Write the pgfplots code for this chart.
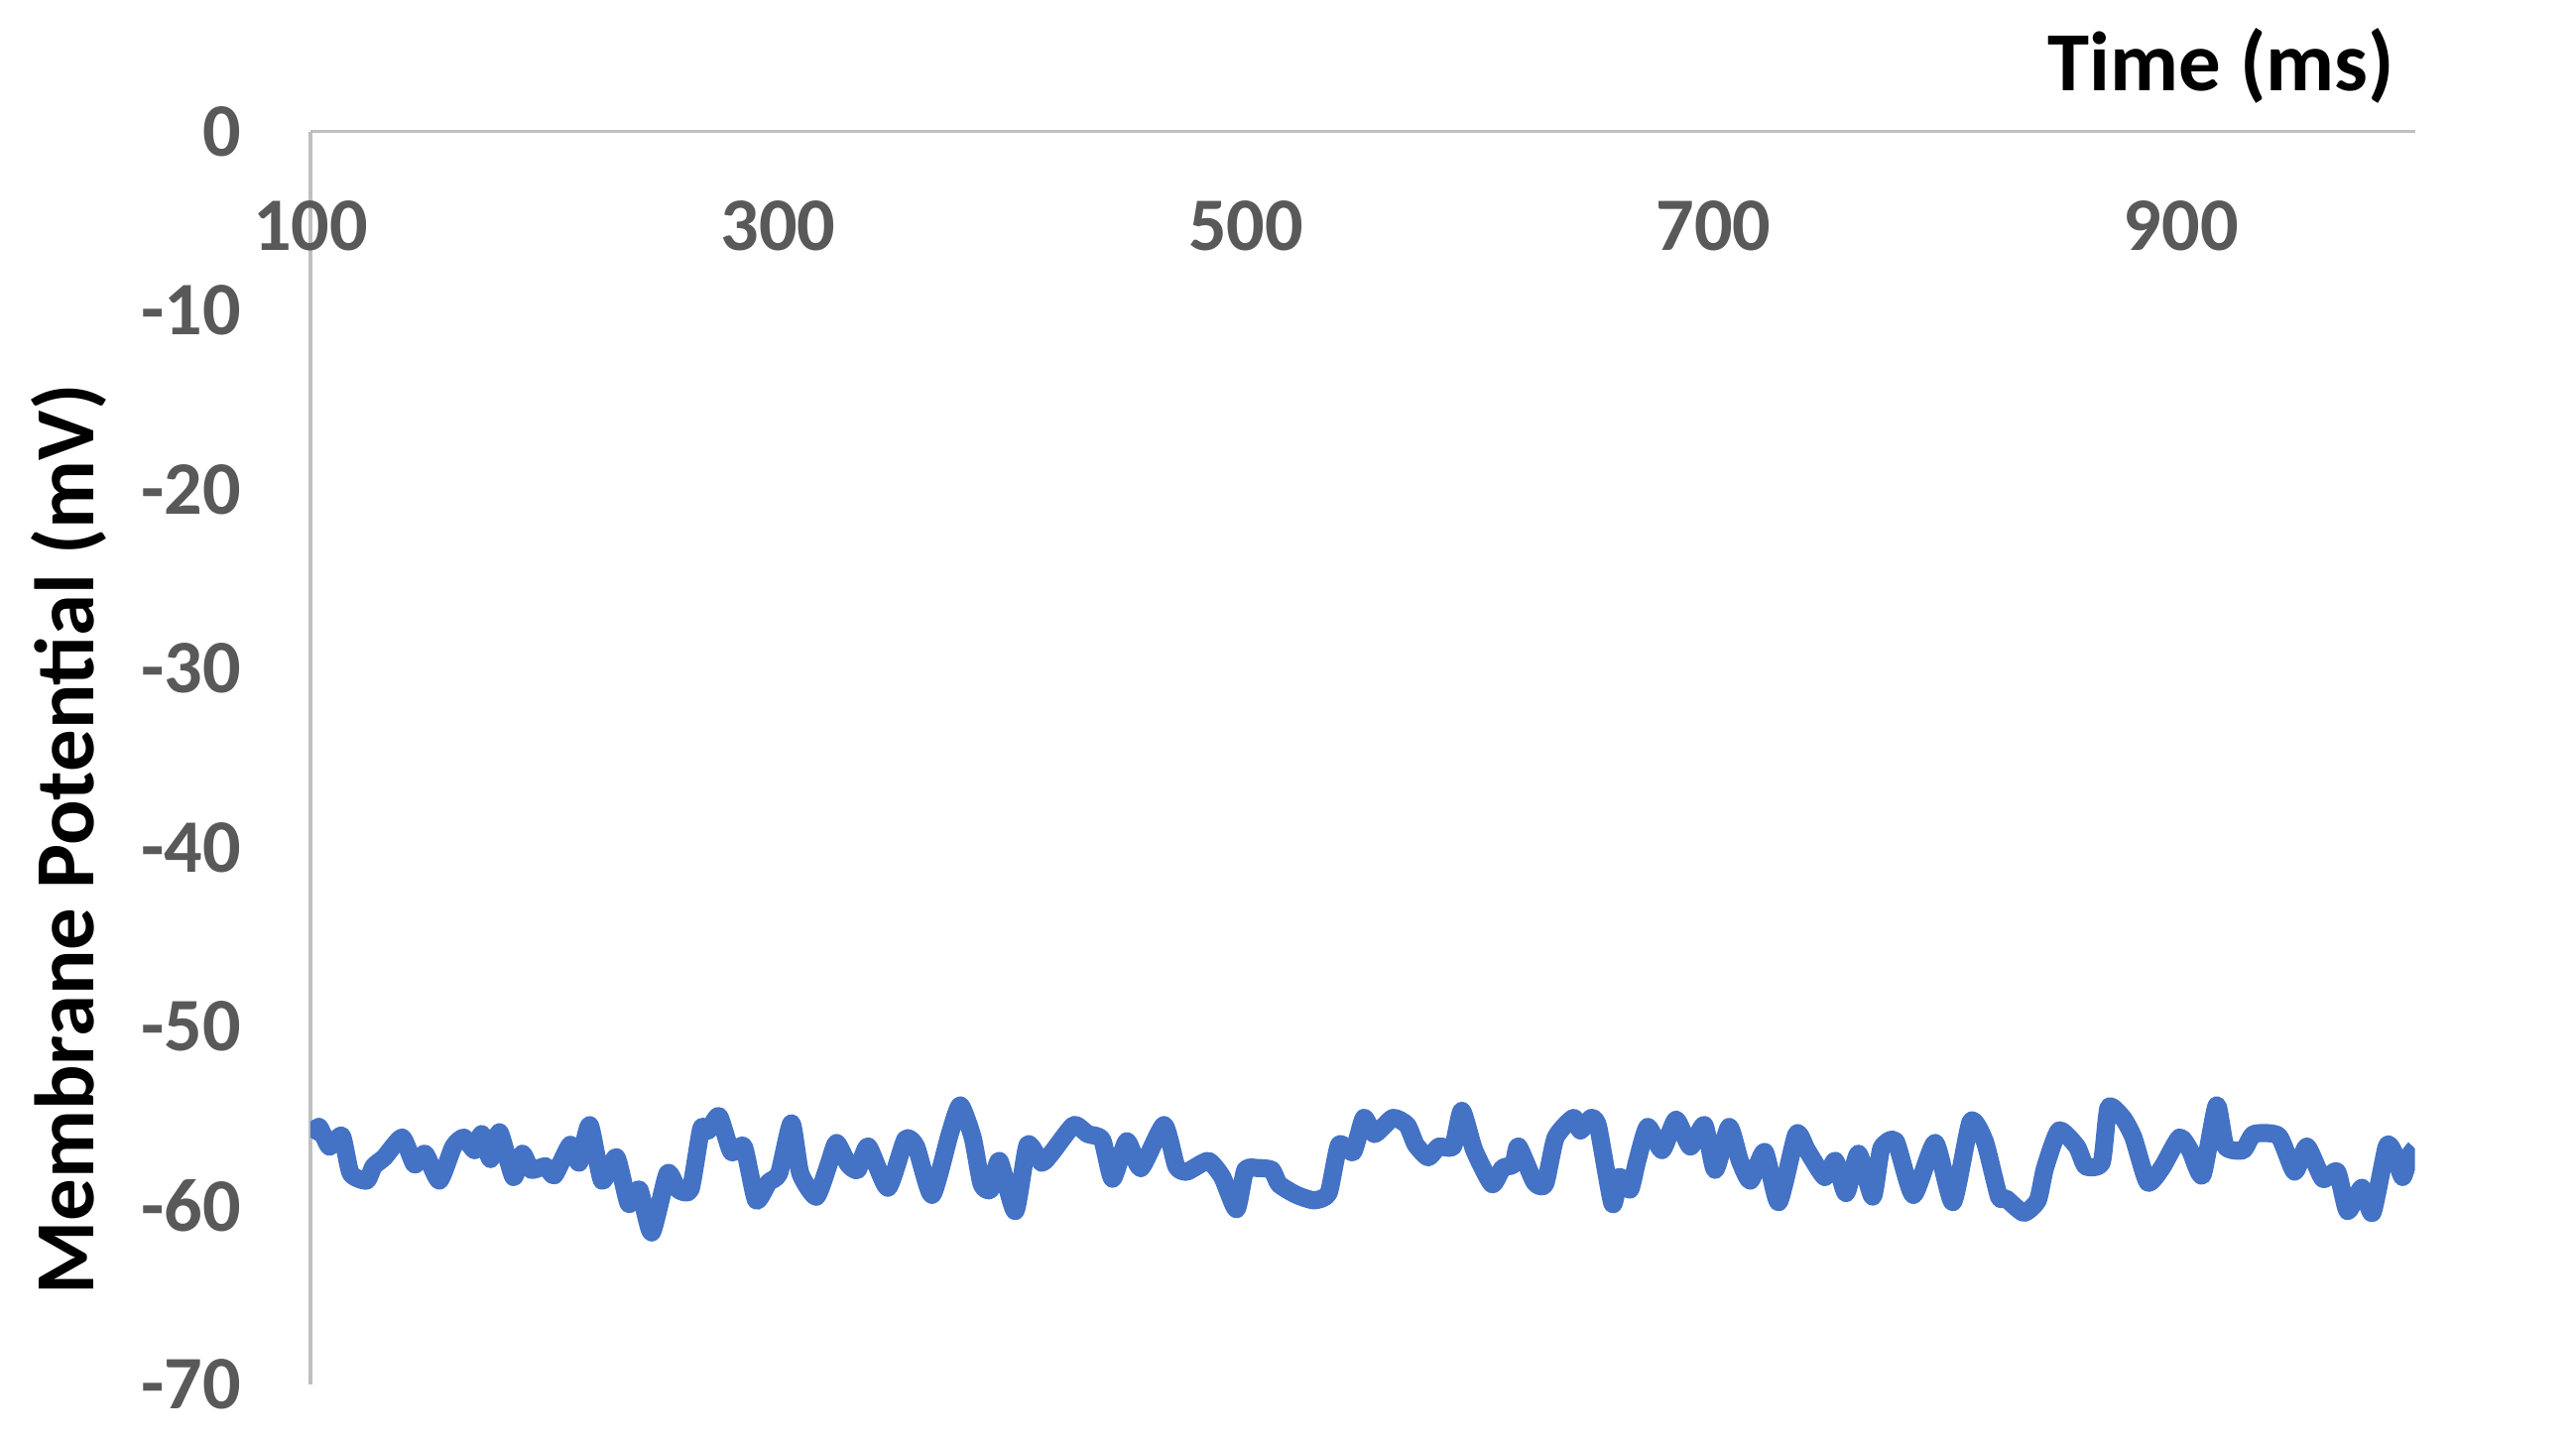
\documentclass[border=0pt]{standalone}
\usepackage{pgfplots}
\pgfplotsset{compat=1.18}
\usepackage{fontspec}
\setmainfont{Carlito}
\definecolor{trace}{HTML}{4472C4}
\definecolor{tickgray}{HTML}{595959}
\definecolor{axgray}{HTML}{BFBFBF}
\begin{document}
\begin{tikzpicture}
\useasboundingbox (-75.6pt,-14pt) rectangle (551.6pt,337.2pt);
\begin{axis}[
  at={(0,0)}, anchor=south west,
  scale only axis, width=512.4pt, height=305.2pt,
  xmin=100, xmax=1000, ymin=-70, ymax=0,
  axis x line=top, axis y line=left,
  axis line style={draw=axgray, line width=0.8pt, -},
  xtick={100,300,500,700,900},
  ytick={-70,-60,-50,-40,-30,-20,-10,0},
  major tick length=0pt,
  /pgf/number format/assume math mode=true,
  ticklabel style={font=\fontsize{18.4}{20}\selectfont\bfseries, text=tickgray, inner sep=0pt},
  xticklabel style={anchor=north, yshift=-16.8pt},
  yticklabel style={anchor=east, xshift=-16.8pt},
  xlabel={Time (ms)},
  ylabel={Membrane Potential (mV)},
  every axis x label/.style={at={(axis description cs:0.908,1.052)}, anchor=center, font=\fontsize{20.5}{22}\selectfont\bfseries},
  every axis y label/.style={at={(axis description cs:-0.1148,0.435)}, rotate=90, anchor=center, font=\fontsize{20.5}{22}\selectfont\bfseries},
]
\addplot[trace, line width=4.4pt, line join=round, smooth, tension=0.35] coordinates {
(100,-56.2) (103.6,-55.6) (108.1,-56.7) (113.4,-56.1) (117.2,-58.2) (124.0,-58.6) (127.0,-57.8) (131.6,-57.3)
(139.2,-56.2) (144.5,-57.7) (149.0,-57.1) (155.1,-58.6) (161.1,-56.7) (165.6,-56.2) (170.2,-56.9) (173.2,-56.0)
(177.0,-57.4) (180.8,-55.9) (186.8,-58.4) (190.6,-57.1) (194.4,-58.0) (200.5,-57.8) (204.3,-58.3) (211.1,-56.6)
(214.9,-57.6) (219.4,-55.5) (224.7,-58.6) (230.8,-57.3) (236.1,-59.9) (240.6,-59.1) (245.9,-61.5) (252.7,-58.2)
(257.2,-59.1) (262.5,-59.1) (267.1,-55.7) (270.1,-55.8) (274.7,-55.0) (280.0,-57.0) (285.3,-56.7) (290.6,-59.7)
(295.9,-58.7) (300.4,-58.2) (305.7,-55.4) (309.5,-58.2) (316.3,-59.5) (321.6,-57.7) (325.0,-56.5)
(330,-57.7) (334.0,-58.0) (338.5,-56.7) (346.9,-59.0) (354.4,-56.3) (359.0,-56.7) (365.8,-59.4) (373.4,-56.0)
(377.9,-54.4) (383.2,-56.2) (387.0,-58.8) (390.8,-59.1) (394.6,-57.5) (401.4,-60.3) (406.7,-56.6) (412.7,-57.6)
(417.3,-57.0) (426.4,-55.5) (432.4,-56.0) (438.5,-56.3) (443.0,-58.5) (449.1,-56.4) (455.1,-57.9) (465.0,-55.5)
(470.3,-57.8) (474.8,-58.1) (483.9,-57.5) (489.9,-58.4) (496.0,-60.2) (499.8,-58.0) (505.1,-57.9) (511.1,-58.0)
(514.2,-58.8) (521.7,-59.4) (529.3,-59.7) (535.4,-59.3) (539.9,-56.6) (545.9,-57.0) (550.5,-55.1) (555.0,-56.0)
(562.9,-55.1) (569.0,-55.5) (572.7,-56.6) (578.0,-57.3) (582.6,-56.7) (588.6,-56.7) (592.4,-54.7) (597.7,-56.9)
(605.3,-58.8) (609.8,-57.9) (614.4,-57.7) (616.6,-56.7) (623.5,-58.7) (628.0,-58.8) (632.5,-56.2) (640.1,-55.1)
(643.1,-55.8) (647.7,-55.1) (650.7,-55.6) (656.8,-59.9) (659.8,-58.4) (664.3,-59.1) (667.4,-57.5) (671.9,-55.6)
(678.0,-56.9) (684.0,-55.2) (690.1,-56.7) (696.1,-55.5) (700.7,-58.0) (706.7,-55.6) (711.3,-57.5) (715.8,-58.6)
(721.9,-57.0) (727.9,-59.8) (735.5,-56.0) (740.0,-56.9) (747.6,-58.4) (752.1,-57.5) (756.7,-59.3) (762.0,-57.1)
(768.1,-59.5) (771.8,-56.8) (777.9,-56.4) (785.5,-59.4)
(794.8,-56.5) (802.4,-59.8) (810.0,-55.3) (816.0,-56.4) (822.1,-59.5) (825.1,-59.6) (832.7,-60.4) (838.7,-59.7)
(841.8,-57.9) (847.8,-55.8) (855.4,-56.7) (859.2,-57.8) (866.0,-57.6) (869.0,-54.5) (875.1,-55.1) (879.6,-56.2)
(885.7,-58.7) (891.7,-57.9) (899.3,-56.2) (903.8,-56.9) (909.1,-58.3) (915.2,-54.4) (919.0,-56.7) (926.5,-56.9)
(931.1,-56.0) (941.7,-56.1) (948.5,-58.1) (953.8,-56.7) (960.6,-58.5) (966.7,-58.1) (971.2,-60.3) (977.3,-59.0)
(981.8,-60.4) (987.9,-56.7) (990.9,-57.0) (994.7,-58.4) (997.7,-57.2) (1000,-56.8)
};
\end{axis}
\end{tikzpicture}
\end{document}
